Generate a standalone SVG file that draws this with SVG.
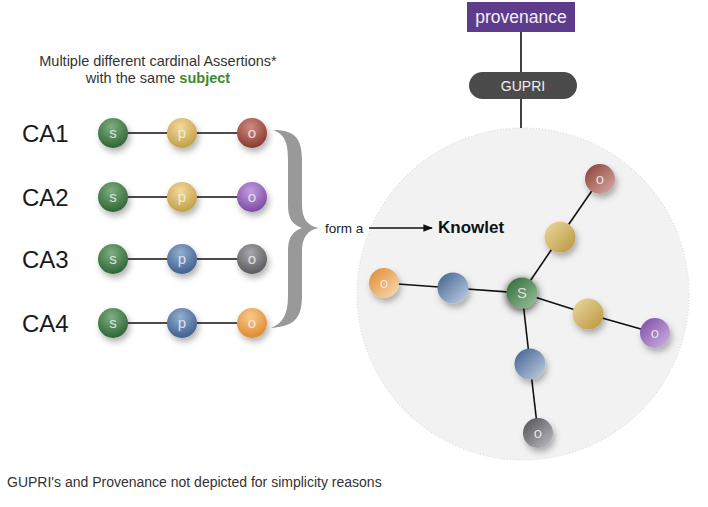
<svg xmlns="http://www.w3.org/2000/svg" width="708" height="507" viewBox="0 0 708 507">
<defs>
<style>
.t{font-family:"Helvetica Neue","Liberation Sans",Arial,sans-serif;}
.lbl{font-family:"Liberation Sans",Arial,sans-serif;font-size:24px;fill:#1a1a1a;}
.ball-t{font-family:"Liberation Sans",Arial,sans-serif;font-size:15px;fill:#f2f2f2;text-anchor:middle;fill-opacity:0.85;}
.edge{stroke:#111;stroke-width:1.6;fill:none;}
</style>
<filter id="sh" x="-60%" y="-60%" width="220%" height="220%"><feDropShadow dx="2" dy="4" stdDeviation="3" flood-color="#000" flood-opacity="0.3"/></filter>
<filter id="shS" x="-80%" y="-80%" width="260%" height="260%"><feDropShadow dx="0" dy="2" stdDeviation="4" flood-color="#000" flood-opacity="0.8"/></filter>
<radialGradient id="gG" cx="45%" cy="30%" r="70%"><stop offset="0" stop-color="#7fae80"/><stop offset="1" stop-color="#2f6536"/></radialGradient>
<radialGradient id="gY" cx="45%" cy="30%" r="70%"><stop offset="0" stop-color="#f0dc9a"/><stop offset="1" stop-color="#c19f45"/></radialGradient>
<radialGradient id="gR" cx="45%" cy="30%" r="70%"><stop offset="0" stop-color="#d08a80"/><stop offset="1" stop-color="#8a3a30"/></radialGradient>
<radialGradient id="gP" cx="45%" cy="30%" r="70%"><stop offset="0" stop-color="#c49ce0"/><stop offset="1" stop-color="#7c4ba3"/></radialGradient>
<radialGradient id="gB" cx="45%" cy="30%" r="70%"><stop offset="0" stop-color="#93aed0"/><stop offset="1" stop-color="#3f5f8e"/></radialGradient>
<radialGradient id="gK" cx="45%" cy="30%" r="70%"><stop offset="0" stop-color="#a8a8ac"/><stop offset="1" stop-color="#5a5a5e"/></radialGradient>
<radialGradient id="gO" cx="45%" cy="30%" r="70%"><stop offset="0" stop-color="#f8c98a"/><stop offset="1" stop-color="#e08a30"/></radialGradient>
<linearGradient id="kG" x1="0" y1="0" x2="1" y2="1"><stop offset="0" stop-color="#2f6536"/><stop offset="1" stop-color="#9cc49c"/></linearGradient>
<linearGradient id="kY" x1="0" y1="0" x2="1" y2="1"><stop offset="0" stop-color="#ecd9a0"/><stop offset="1" stop-color="#b8953c"/></linearGradient>
<linearGradient id="kR" x1="0" y1="0" x2="1" y2="1"><stop offset="0" stop-color="#8a3a30"/><stop offset="1" stop-color="#d9b0aa"/></linearGradient>
<linearGradient id="kP" x1="0" y1="0" x2="1" y2="1"><stop offset="0" stop-color="#7c4ba3"/><stop offset="1" stop-color="#d0b4e4"/></linearGradient>
<linearGradient id="kB" x1="0" y1="0" x2="1" y2="1"><stop offset="0" stop-color="#3f5f8e"/><stop offset="1" stop-color="#c3d1e3"/></linearGradient>
<linearGradient id="kK" x1="0" y1="0" x2="1" y2="1"><stop offset="0" stop-color="#4f4f53"/><stop offset="1" stop-color="#bfbfc3"/></linearGradient>
<linearGradient id="kO" x1="0" y1="0" x2="1" y2="1"><stop offset="0" stop-color="#e08a30"/><stop offset="1" stop-color="#f8dcb8"/></linearGradient>
<marker id="arr" viewBox="0 0 10 10" refX="9" refY="5" markerWidth="6" markerHeight="6" orient="auto"><path d="M0,1 L10,5 L0,9 z" fill="#111"/></marker>
</defs>
<rect width="708" height="507" fill="#fff"/>

<g id="knowlet-area">
<circle cx="523" cy="294" r="166" fill="#f2f2f3" stroke="#dcdcdc" stroke-width="1.2" stroke-dasharray="1 2"/>
</g>

<g id="header">
<text class="t" x="158" y="66" font-size="14.5" fill="#333" text-anchor="middle">Multiple different cardinal Assertions*</text>
<text class="t" x="158" y="83" font-size="14.5" fill="#333" text-anchor="middle">with the same <tspan font-weight="bold" fill="#3d8a2c">subject</tspan></text>
</g>

<g id="connectors">
<line class="edge" x1="113" y1="133" x2="252" y2="133"/>
<line class="edge" x1="113" y1="197" x2="252" y2="197"/>
<line class="edge" x1="113" y1="259" x2="252" y2="259"/>
<line class="edge" x1="113" y1="323" x2="252" y2="323"/>
<line class="edge" x1="521" y1="32" x2="521" y2="72"/>
<line class="edge" x1="521" y1="99" x2="521" y2="128"/>
<line x1="369" y1="228" x2="432" y2="228" stroke="#111" stroke-width="1.6" marker-end="url(#arr)"/>
<line class="edge" x1="522" y1="293" x2="560" y2="237"/>
<line class="edge" x1="560" y1="237" x2="600" y2="179"/>
<line class="edge" x1="522" y1="293" x2="453" y2="288"/>
<line class="edge" x1="453" y1="288" x2="384" y2="283"/>
<line class="edge" x1="522" y1="293" x2="588" y2="314"/>
<line class="edge" x1="588" y1="314" x2="655" y2="333"/>
<line class="edge" x1="522" y1="293" x2="530" y2="364"/>
<line class="edge" x1="530" y1="364" x2="538" y2="433"/>
</g>

<g id="brace">
<path d="M273,130 C297,130 302,140 302,162 L302,205 C302,218 307,226 319,228 C307,230 302,238 302,251 L302,294 C302,316 297,326 271,328 C285,322 288,312 288,294 L288,251 C288,237 293,231 302,228 C293,225 288,219 288,205 L288,162 C288,144 286,135 273,130 Z" fill="#999"/>
</g>

<g id="CA1"><text class="lbl" x="22" y="142">CA1</text>
<g filter="url(#sh)"><circle cx="113" cy="133" r="15" fill="url(#gG)"/><circle cx="182" cy="133" r="15" fill="url(#gY)"/><circle cx="252" cy="133" r="15" fill="url(#gR)"/></g>
<text class="ball-t" x="113" y="138">s</text><text class="ball-t" x="182" y="138">p</text><text class="ball-t" x="252" y="138">o</text></g>
<g id="CA2"><text class="lbl" x="22" y="206">CA2</text>
<g filter="url(#sh)"><circle cx="113" cy="197" r="15" fill="url(#gG)"/><circle cx="182" cy="197" r="15" fill="url(#gY)"/><circle cx="252" cy="197" r="15" fill="url(#gP)"/></g>
<text class="ball-t" x="113" y="202">s</text><text class="ball-t" x="182" y="202">p</text><text class="ball-t" x="252" y="202">o</text></g>
<g id="CA3"><text class="lbl" x="22" y="268">CA3</text>
<g filter="url(#sh)"><circle cx="113" cy="259" r="15" fill="url(#gG)"/><circle cx="182" cy="259" r="15" fill="url(#gB)"/><circle cx="252" cy="259" r="15" fill="url(#gK)"/></g>
<text class="ball-t" x="113" y="264">s</text><text class="ball-t" x="182" y="264">p</text><text class="ball-t" x="252" y="264">o</text></g>
<g id="CA4"><text class="lbl" x="22" y="332">CA4</text>
<g filter="url(#sh)"><circle cx="113" cy="323" r="15" fill="url(#gG)"/><circle cx="182" cy="323" r="15" fill="url(#gB)"/><circle cx="252" cy="323" r="15" fill="url(#gO)"/></g>
<text class="ball-t" x="113" y="328">s</text><text class="ball-t" x="182" y="328">p</text><text class="ball-t" x="252" y="328">o</text></g>

<g id="form-a"><text class="t" x="325" y="233" font-size="13.5" fill="#222">form a</text></g>
<g id="knowlet-label"><text class="t" x="438" y="233" font-size="17" font-weight="bold" fill="#111">Knowlet</text></g>

<g id="provenance"><rect x="467" y="2" width="108" height="30" fill="#5f3b8c"/>
<text class="t" x="521" y="23" font-size="17.5" fill="#f4f0f8" text-anchor="middle">provenance</text></g>
<g id="GUPRI"><rect x="469" y="72" width="108" height="27" rx="13.5" fill="#4b4b4b"/>
<text class="t" x="523" y="91" font-size="14" fill="#f0f0f0" text-anchor="middle">GUPRI</text></g>

<g id="k-p1" filter="url(#sh)"><circle cx="560" cy="237" r="15.5" fill="url(#kY)"/></g>
<g id="k-o1" filter="url(#sh)"><circle cx="600" cy="179" r="15" fill="url(#kR)"/><text class="ball-t" x="600" y="184" font-size="13">o</text></g>
<g id="k-p2" filter="url(#sh)"><circle cx="453" cy="288" r="15.5" fill="url(#kB)"/></g>
<g id="k-o2" filter="url(#sh)"><circle cx="384" cy="283" r="15" fill="url(#kO)"/><text class="ball-t" x="384" y="288" font-size="13">o</text></g>
<g id="k-p3" filter="url(#sh)"><circle cx="588" cy="314" r="15.5" fill="url(#kY)"/></g>
<g id="k-o3" filter="url(#sh)"><circle cx="655" cy="333" r="15" fill="url(#kP)"/><text class="ball-t" x="655" y="338" font-size="13">o</text></g>
<g id="k-p4" filter="url(#sh)"><circle cx="530" cy="364" r="15.5" fill="url(#kB)"/></g>
<g id="k-o4" filter="url(#sh)"><circle cx="538" cy="433" r="15" fill="url(#kK)"/><text class="ball-t" x="538" y="438" font-size="13">o</text></g>
<g id="k-s" filter="url(#shS)"><circle cx="522" cy="293" r="15.5" fill="url(#kG)"/><text class="ball-t" x="522" y="298" font-size="15">S</text></g>

<g id="footnote"><text class="t" x="7" y="487" font-size="14" fill="#333">GUPRI's and Provenance not depicted for simplicity reasons</text></g>
</svg>
